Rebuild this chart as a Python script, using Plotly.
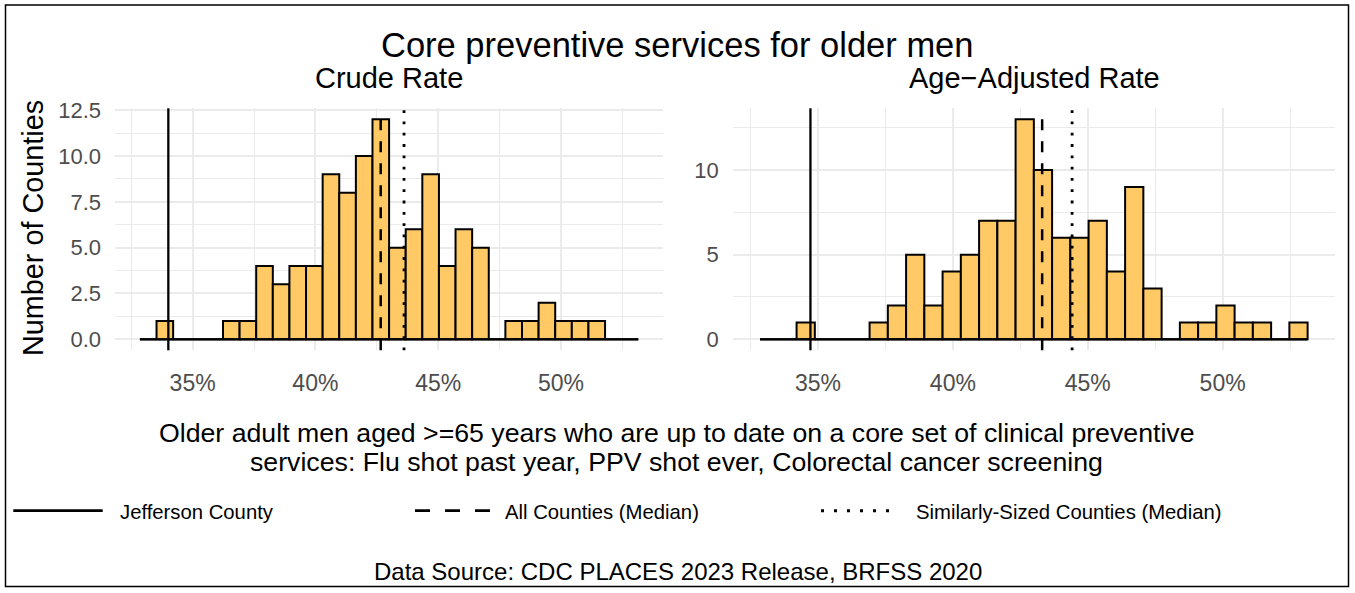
import plotly.graph_objects as go

W, H = 1355, 593

# ---------------- data ----------------
bin_start = 32.853          # left edge of first histogram bin (%)
bin_width = 0.6766          # histogram bin width (%)
crude_counts = [0, 1, 0, 0, 0, 1, 1, 4, 3, 4, 4, 9, 8, 10, 12, 5, 6, 9, 4, 6,
                5, 0, 1, 1, 2, 1, 1, 1, 0, 0]
adjusted_counts = [0, 0, 1, 0, 0, 0, 1, 2, 5, 2, 4, 5, 7, 7, 13, 10, 6, 6, 7, 4,
                   9, 3, 0, 1, 1, 2, 1, 1, 0, 1]
jefferson = [34.01, 34.72]            # crude, age-adjusted
all_counties_median = [42.66, 43.31]
similar_counties_median = [43.61, 44.42]
x_tick_vals = [35, 40, 45, 50]
x_tick_text = ["35%", "40%", "45%", "50%"]
y1_tick_vals = [0, 2.5, 5, 7.5, 10, 12.5]
y1_tick_text = ["0.0", "2.5", "5.0", "7.5", "10.0", "12.5"]
y2_tick_vals = [0, 5, 10]
y2_tick_text = ["0", "5", "10"]

n_bins = len(crude_counts)
edges = [bin_start + i * bin_width for i in range(n_bins + 1)]
centers = [(edges[i] + edges[i + 1]) / 2 for i in range(n_bins)]
span = edges[-1] - edges[0]
x_range = [edges[0] - 0.05 * span, edges[-1] + 0.05 * span]

FONT = "Liberation Sans, Arial, sans-serif"
FILL = "#FFC966"
GRID = "#EBEBEB"
TICK = "#4D4D4D"


def px(x):
    return x / W


def py(y):
    return 1 - y / H


fig = go.Figure()

panels = [("x", "y", crude_counts), ("x2", "y2", adjusted_counts)]
for xa, ya, counts in panels:
    fig.add_trace(go.Bar(
        x=centers, y=counts, width=bin_width, xaxis=xa, yaxis=ya,
        marker=dict(color=FILL, line=dict(color="black", width=2)),
        hoverinfo="x+y"))
    fig.add_trace(go.Scatter(
        x=[edges[0], edges[-1]], y=[0, 0], mode="lines", xaxis=xa, yaxis=ya,
        line=dict(color="black", width=2.2), hoverinfo="skip"))

# reference lines
for i, (xa, ya) in enumerate([("x", "y"), ("x2", "y2")]):
    dom = ya + " domain"
    fig.add_shape(type="line", xref=xa, yref=dom, x0=jefferson[i], x1=jefferson[i],
                  y0=0, y1=1, line=dict(color="black", width=2.3), layer="above")
    fig.add_shape(type="line", xref=xa, yref=dom, x0=all_counties_median[i],
                  x1=all_counties_median[i], y0=0, y1=1,
                  line=dict(color="black", width=2.5, dash="11px,11px"), layer="above")
    fig.add_shape(type="line", xref=xa, yref=dom, x0=similar_counties_median[i],
                  x1=similar_counties_median[i], y0=0, y1=1,
                  line=dict(color="black", width=2.8, dash="2.8px,8.5px"), layer="above")

ydom = [py(350.3), py(108.3)]
common_x = dict(range=x_range, tickvals=x_tick_vals, ticktext=x_tick_text,
                showgrid=True, gridcolor=GRID, gridwidth=1.6, zeroline=False,
                showline=False, ticks="", ticklabelstandoff=17, automargin=False,
                tickfont=dict(family=FONT, size=23, color=TICK),
                minor=dict(tick0=32.5, dtick=5, showgrid=True, gridcolor=GRID,
                           gridwidth=0.9))
common_y = dict(showgrid=True, gridcolor=GRID, gridwidth=1.6, zeroline=False,
                showline=False, ticks="", ticklabelstandoff=13, automargin=False,
                tickfont=dict(family=FONT, size=22, color=TICK))
fig.update_layout(
    template="none",
    width=W, height=H, margin=dict(l=0, r=0, t=0, b=0, pad=0, autoexpand=False),
    paper_bgcolor="white", plot_bgcolor="white", showlegend=False,
    barmode="overlay", font=dict(family=FONT, color="black"),
    xaxis=dict(domain=[px(115), px(663.2)], anchor="y", **common_x),
    xaxis2=dict(domain=[px(732.7), px(1335)], anchor="y2", **common_x),
    yaxis=dict(domain=ydom, anchor="x",
               range=[-0.05 * max(crude_counts), 1.05 * max(crude_counts)],
               tickvals=y1_tick_vals, ticktext=y1_tick_text,
               minor=dict(tick0=1.25, dtick=2.5, showgrid=True, gridcolor=GRID,
                          gridwidth=0.9),
               **common_y),
    yaxis2=dict(domain=ydom, anchor="x2",
                range=[-0.05 * max(adjusted_counts), 1.05 * max(adjusted_counts)],
                tickvals=y2_tick_vals, ticktext=y2_tick_text,
                minor=dict(tick0=2.5, dtick=5, showgrid=True, gridcolor=GRID,
                           gridwidth=0.9),
                **common_y),
)


def text(x, y, s, size, color="black", angle=0, xanchor="center"):
    fig.add_annotation(x=px(x), y=py(y), xref="paper", yref="paper", text=s,
                       showarrow=False, textangle=angle, xanchor=xanchor,
                       yanchor="middle", font=dict(family=FONT, size=size, color=color))


text(677, 45, "Core preventive services for older men", 34.5)
text(389, 78, "Crude Rate", 29)
text(1034, 78, "Age\u2212Adjusted Rate", 29)
text(33, 228, "Number of Counties", 28.8, angle=-90)
text(677, 433, "Older adult men aged &gt;=65 years who are up to date on a core set of clinical preventive", 26.7)
text(676, 462, "services: Flu shot past year, PPV shot ever, Colorectal cancer screening", 26.7)
text(678, 571, "Data Source: CDC PLACES 2023 Release, BRFSS 2020", 24)

# legend (manual)
legend_items = [
    (13.3, 102.7, "solid", 2.8, 118.3, "Jefferson County"),
    (415, 492.7, "15px,15px", 2.8, 503, "All Counties (Median)"),
    (821, 896, "3px,10px", 3.0, 914, "Similarly-Sized Counties (Median)"),
]
for x0, x1, dash, wdt, tx, label in legend_items:
    fig.add_shape(type="line", xref="paper", yref="paper", x0=px(x0), x1=px(x1),
                  y0=py(510.7), y1=py(510.7), line=dict(color="black", width=wdt, dash=dash))
    text(tx, 512, label, 20.3, xanchor="left")

# outer border
fig.add_shape(type="rect", xref="paper", yref="paper", x0=px(5.5), x1=px(1348.5),
              y0=py(586.5), y1=py(5), line=dict(color="black", width=1.5))

fig.write_html("out.html", config={"displayModeBar": False},
               post_script="document.body.style.margin='0px';"
                           "document.body.style.overflow='hidden';")
